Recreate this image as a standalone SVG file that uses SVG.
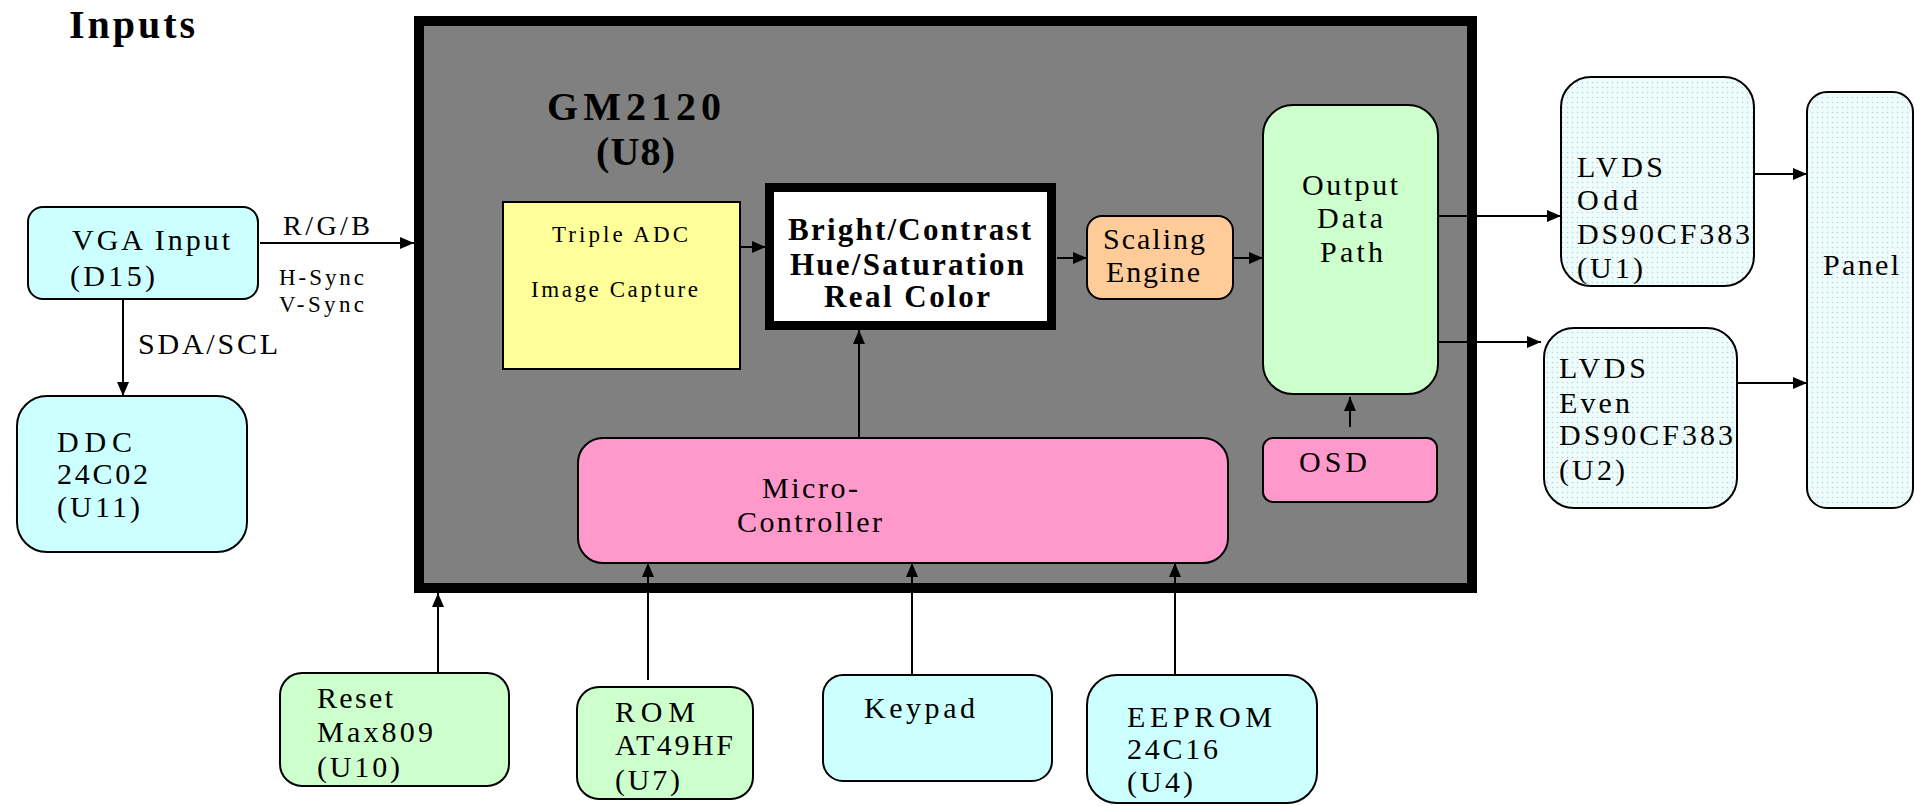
<svg xmlns="http://www.w3.org/2000/svg" width="1917" height="806" viewBox="0 0 1917 806">
<defs>
<style>
text{font-family:"Liberation Serif","Times New Roman",serif;font-size:30px;fill:#000}
.b{font-weight:bold}
.t40{font-size:40px}
.t32{font-size:31px}
.t27{font-size:28px}
.s{font-size:23px}
.xs{font-size:23px}
.box{stroke:#000;stroke-width:2}
.cy{fill:#ccffff}
.gr{fill:#ccffcc}
.pk{fill:#ff99cc}
.dot{fill:url(#dots)}
.ln{stroke:#000;stroke-width:2;fill:none;marker-end:url(#ah)}
</style>
<pattern id="dots" width="5" height="5" patternUnits="userSpaceOnUse">
<rect width="5" height="5" fill="#effcfc"/>
<circle cx="2.5" cy="2.5" r="0.8" fill="#b5d5d5"/>
</pattern>
<marker id="ah" markerUnits="userSpaceOnUse" markerWidth="14" markerHeight="12" refX="14" refY="6" orient="auto">
<path d="M0,0 L14,6 L0,12 z" fill="#000"/>
</marker>
</defs>
<rect width="1917" height="806" fill="#fff"/>
<text id="title" class="b t40" x="69" y="38" textLength="126" lengthAdjust="spacing">Inputs</text>

<g id="gm2120">
<rect x="419" y="21" width="1053" height="567" fill="#808080" stroke="#000" stroke-width="10"/>
<text class="b t40" x="547" y="120" textLength="174" lengthAdjust="spacing">GM2120</text>
<text class="b t40" x="596" y="165" textLength="79" lengthAdjust="spacing">(U8)</text>
</g>

<g id="vga">
<rect class="box cy" x="28" y="207" width="230" height="92" rx="15"/>
<text x="72" y="250" textLength="158" lengthAdjust="spacing">VGA Input</text>
<text x="70" y="286" textLength="85" lengthAdjust="spacing">(D15)</text>
</g>

<g id="ddc">
<rect class="box cy" x="17" y="396" width="230" height="156" rx="30"/>
<text x="57" y="452" textLength="75" lengthAdjust="spacing">DDC</text>
<text x="57" y="484" textLength="91" lengthAdjust="spacing">24C02</text>
<text x="57" y="517" textLength="83" lengthAdjust="spacing">(U11)</text>
</g>

<g id="adc">
<rect class="box" x="503" y="202" width="237" height="167" fill="#ffff99"/>
<text class="s" x="552" y="242" textLength="136" lengthAdjust="spacing">Triple ADC</text>
<text class="s" x="531" y="297" textLength="167" lengthAdjust="spacing">Image Capture</text>
</g>

<g id="bright">
<rect x="769.5" y="187.5" width="282" height="138" fill="#fff" stroke="#000" stroke-width="9"/>
<text class="b t32" x="788" y="240" textLength="243" lengthAdjust="spacing">Bright/Contrast</text>
<text class="b t32" x="790" y="275" textLength="234" lengthAdjust="spacing">Hue/Saturation</text>
<text class="b t32" x="824" y="307" textLength="166" lengthAdjust="spacing">Real Color</text>
</g>

<g id="scaling">
<rect class="box" x="1087" y="216" width="146" height="83" rx="15" fill="#ffcc99"/>
<text x="1103" y="249" textLength="102" lengthAdjust="spacing">Scaling</text>
<text x="1106" y="282" textLength="94" lengthAdjust="spacing">Engine</text>
</g>

<g id="output">
<rect class="box gr" x="1263" y="105" width="175" height="289" rx="30"/>
<text x="1302" y="195" textLength="96" lengthAdjust="spacing">Output</text>
<text x="1317" y="228" textLength="66" lengthAdjust="spacing">Data</text>
<text x="1320" y="262" textLength="63" lengthAdjust="spacing">Path</text>
</g>

<g id="osd">
<rect class="box pk" x="1263" y="438" width="174" height="64" rx="10"/>
<text x="1299" y="472" textLength="68" lengthAdjust="spacing">OSD</text>
</g>

<g id="micro">
<rect class="box pk" x="578" y="438" width="650" height="125" rx="25"/>
<text x="762" y="498" textLength="96" lengthAdjust="spacing">Micro-</text>
<text x="737" y="532" textLength="145" lengthAdjust="spacing">Controller</text>
</g>

<g id="lvds-odd">
<rect class="box dot" x="1561" y="77" width="193" height="209" rx="30"/>
<text x="1577" y="177" textLength="86" lengthAdjust="spacing">LVDS</text>
<text x="1577" y="210" textLength="61" lengthAdjust="spacing">Odd</text>
<text x="1577" y="244" textLength="173" lengthAdjust="spacing">DS90CF383</text>
<text x="1577" y="278" textLength="66" lengthAdjust="spacing">(U1)</text>
</g>

<g id="lvds-even">
<rect class="box dot" x="1544" y="328" width="193" height="180" rx="30"/>
<text x="1559" y="378" textLength="87" lengthAdjust="spacing">LVDS</text>
<text x="1559" y="413" textLength="71" lengthAdjust="spacing">Even</text>
<text x="1559" y="445" textLength="174" lengthAdjust="spacing">DS90CF383</text>
<text x="1559" y="480" textLength="66" lengthAdjust="spacing">(U2)</text>
</g>

<g id="panel">
<rect class="box dot" x="1807" y="92" width="106" height="416" rx="20"/>
<text x="1823" y="275" textLength="76" lengthAdjust="spacing">Panel</text>
</g>

<g id="reset">
<rect class="box gr" x="280" y="673" width="229" height="113" rx="22"/>
<text x="317" y="708" textLength="76" lengthAdjust="spacing">Reset</text>
<text x="317" y="742" textLength="116" lengthAdjust="spacing">Max809</text>
<text x="317" y="777" textLength="83" lengthAdjust="spacing">(U10)</text>
</g>

<g id="rom">
<rect class="box gr" x="577" y="687" width="176" height="112" rx="22"/>
<text x="615" y="722" textLength="80" lengthAdjust="spacing">ROM</text>
<text x="615" y="755" textLength="118" lengthAdjust="spacing">AT49HF</text>
<text x="615" y="790" textLength="65" lengthAdjust="spacing">(U7)</text>
</g>

<g id="keypad">
<rect class="box cy" x="823" y="675" width="229" height="106" rx="20"/>
<text x="864" y="718" textLength="111" lengthAdjust="spacing">Keypad</text>
</g>

<g id="eeprom">
<rect class="box cy" x="1087" y="675" width="230" height="128" rx="30"/>
<text x="1127" y="727" textLength="145" lengthAdjust="spacing">EEPROM</text>
<text x="1127" y="759" textLength="91" lengthAdjust="spacing">24C16</text>
<text x="1127" y="792" textLength="66" lengthAdjust="spacing">(U4)</text>
</g>

<g id="connectors">
<path class="ln" d="M260,243 H414"/>
<path class="ln" d="M123,299 V396"/>
<path class="ln" d="M740,247 H766"/>
<path class="ln" d="M1057,258 H1087"/>
<path class="ln" d="M1233,258 H1263"/>
<path class="ln" d="M859,437 V330"/>
<path class="ln" d="M1350,427 V397"/>
<path class="ln" d="M1438,216 H1561"/>
<path class="ln" d="M1438,342 H1541"/>
<path class="ln" d="M1754,174 H1807"/>
<path class="ln" d="M1737,383 H1807"/>
<path class="ln" d="M438,673 V593"/>
<path class="ln" d="M648,680 V563"/>
<path class="ln" d="M912,675 V563"/>
<path class="ln" d="M1175,675 V563"/>
</g>
<g id="labels">
<text class="t27" x="283" y="235" textLength="87" lengthAdjust="spacing">R/G/B</text>
<text class="xs" x="279" y="285" textLength="85" lengthAdjust="spacing">H-Sync</text>
<text class="xs" x="279" y="312" textLength="85" lengthAdjust="spacing">V-Sync</text>
<text x="138" y="354" textLength="140" lengthAdjust="spacing">SDA/SCL</text>
</g>
</svg>
